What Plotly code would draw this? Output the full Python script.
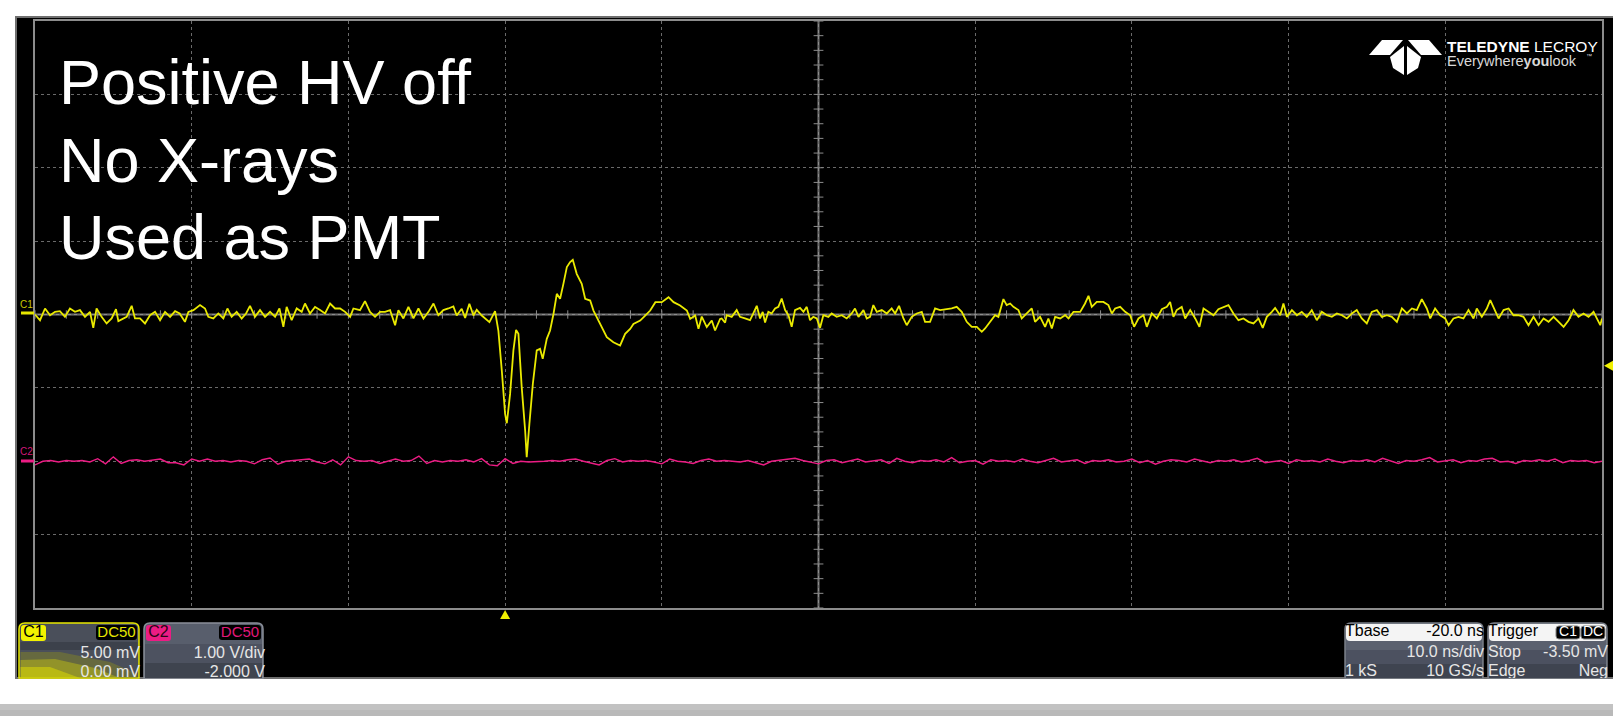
import plotly.graph_objects as go

W, H = 1613, 716

# ---------------- data ----------------
# Channel 1 samples: time (ns, trigger = 0) and voltage (mV)
C1_T = [-30.0, -29.68, -29.36, -29.04, -28.72, -28.41, -28.09, -27.77, -27.45, -27.13,
        -26.81, -26.49, -26.28, -26.07, -25.75, -25.43, -25.11, -24.83, -24.68, -24.36,
        -24.15, -23.83, -23.62, -23.30, -22.98, -22.66, -22.34, -22.02, -21.70, -21.38,
        -21.06, -20.77, -20.43, -20.21, -19.89, -19.47, -19.15, -18.94, -18.62, -18.30,
        -17.98, -17.72, -17.45, -17.13, -16.81, -16.53, -16.28, -15.96, -15.64, -15.32,
        -15.00, -14.68, -14.40, -14.15, -13.94, -13.62, -13.30, -12.98, -12.77, -12.45,
        -12.13, -11.81, -11.49, -11.17, -10.85, -10.53, -10.21, -9.89, -9.68, -9.26,
        -8.94, -8.62, -8.30, -7.98, -7.66, -7.34, -7.02, -6.81, -6.49, -6.17,
        -5.85, -5.53, -5.21, -4.89, -4.57, -4.26, -3.94, -3.62,
        -3.30, -3.09, -2.77, -2.55, -2.28, -2.02, -1.81, -1.49, -1.00, -0.64,
        -0.43, -0.21, 0.00, 0.11, 0.32, 0.53, 0.70, 0.85, 1.06, 1.28,
        1.38, 1.55, 1.77, 2.02, 2.23, 2.40, 2.66, 2.87, 3.09, 3.30,
        3.51, 3.72, 3.94, 4.15, 4.32, 4.57, 4.89, 5.11, 5.43, 5.64,
        5.85, 6.17, 6.49, 6.91, 7.34, 7.66, 7.98, 8.19, 8.62, 8.94,
        9.26, 9.59, 10.00, 10.43, 10.75, 11.17, 11.60, 11.81, 12.13, 12.34,
        12.55, 12.87, 13.19, 13.40, 13.72,
        13.82, 14.04, 14.14, 14.46, 14.78, 14.99, 15.31, 15.63, 15.84, 16.06,
        16.27, 16.44, 16.59, 16.80, 17.01, 17.23, 17.44, 17.65, 17.87, 18.08,
        18.29, 18.50, 18.82, 19.04, 19.25, 19.46, 19.67, 19.89, 20.10, 20.31,
        20.63, 20.84, 21.16, 21.48, 21.80, 22.12, 22.33, 22.55, 22.87, 23.08,
        23.29, 23.50, 23.72, 24.04, 24.36, 24.67, 24.89, 25.14, 25.42, 25.63,
        25.95, 26.27, 26.59, 26.80, 27.12, 27.44, 27.76, 28.18, 28.50, 28.82,
        29.14, 29.46, 29.78, 30.10, 30.42, 30.63, 30.95, 31.27, 31.48, 31.80,
        32.01, 32.23, 32.44, 32.76, 32.97, 33.29, 33.61, 33.82, 34.14, 34.46,
        34.67, 34.89, 35.10, 35.42, 35.74, 35.95, 36.27, 36.70, 37.01, 37.23,
        37.44, 37.76, 38.18, 38.50, 38.72, 38.93, 39.25,
        39.57, 39.89, 40.14, 40.42, 40.74, 40.95, 41.27, 41.59, 41.91, 42.23,
        42.44, 42.65, 42.86, 43.18, 43.40, 43.72, 44.04, 44.31, 44.57, 44.89,
        45.21, 45.52, 45.84, 46.16, 46.48, 46.80, 47.12, 47.44, 47.76, 48.08,
        48.35, 48.61, 48.93, 49.14, 49.46, 49.67, 49.89, 50.21, 50.53, 50.84,
        51.16, 51.48, 51.80, 52.12, 52.44, 52.76, 53.08, 53.40, 53.72, 54.04,
        54.35, 54.67, 54.99, 55.31, 55.63, 55.95, 56.27, 56.59, 56.91, 57.23,
        57.55, 57.87, 58.18, 58.50, 58.82, 59.04, 59.35, 59.67, 59.99, 60.21,
        60.52, 60.84, 61.16, 61.48, 61.80, 62.01, 62.33, 62.65, 62.87, 63.18,
        63.40, 63.72, 64.04, 64.35, 64.67, 64.99, 65.31, 65.63, 65.95, 66.27,
        66.59, 66.91, 67.23, 67.55, 67.87, 68.18, 68.50, 68.82, 69.14, 69.46,
        69.67, 69.89, 70.00]
C1_MV = [0.00, -0.39, 0.41, -0.05, 0.18, 0.23, -0.16, 0.41, 0.18, 0.30,
         -0.16, 0.18, -0.91, 0.41, -0.16, -0.61, -0.27, 0.36, -0.45, -0.27,
         -0.16, 0.59, -0.27, -0.27, -0.61, -0.05, 0.18, -0.39, 0.18, -0.16,
         0.23, 0.07, -0.50, 0.18, 0.30, 0.64, 0.41, -0.16, -0.27, 0.07,
         -0.27, 0.41, -0.16, 0.18, -0.27, 0.07, 0.59, -0.16, 0.30, -0.16,
         0.18, -0.16, 0.41, -0.84, 0.52, -0.39, 0.41, 0.18, 0.75, 0.07,
         0.52, 0.30, 0.07, 0.75, 0.41, 0.41, 0.18, -0.16, 0.41, 0.30,
         0.91, 0.18, -0.16, 0.18, 0.18, 0.30, -0.73, 0.30, -0.27, 0.52,
         -0.27, 0.41, -0.27, 0.18, 0.75, -0.05, 0.30, 0.41,
         0.55, -0.07, 0.39, -0.23, 0.73, -0.07, 0.32, -0.07, -0.52, 0.23,
         -1.09, -3.82, -6.77, -7.41, -5.41, -2.45, -1.05, -1.32, -4.95, -7.91,
         -9.73, -7.45, -4.73, -2.45, -2.34, -3.02, -1.66, -1.09, 0.05, 1.41,
         1.07, 2.09, 3.23, 3.57, 3.73, 2.77, 2.09, 1.07, 0.95, 0.27,
         -0.18, -0.75, -1.55, -1.89, -2.11, -1.32, -0.98, -0.64, -0.41, -0.07,
         0.27, 0.84, 0.84, 1.18, 0.84, 0.61, 0.27, -0.30, -0.07, -0.98,
         -0.14, -0.86, -0.41, -1.09, -0.30,
         -0.27, -0.55, -0.05, -0.16, 0.30, -0.16, -0.27, -0.39, 0.07, 0.59,
         -0.27, 0.18, -0.55, 0.18, 0.07, 0.41, 0.52, 1.09, 0.30, -0.05,
         -0.84, 0.30, 0.45, 0.18, 0.52, -0.39, -0.16, -0.27, -0.91, -0.05,
         -0.16, 0.07, -0.16, -0.05, -0.27, 0.07, 0.41, -0.16, 0.30, -0.27,
         -0.16, 0.64, 0.18, 0.30, 0.07, 0.41, 0.07, 0.59, -0.27, -0.73,
         -0.16, 0.07, 0.18, -0.50, -0.50, 0.41, 0.30, 0.36, 0.41, 0.52,
         0.18, -0.50, -0.84, -0.84, -1.18, -0.95, -0.50, -0.05, -0.16, 1.05,
         0.64, 0.75, 0.52, 0.30, -0.27, 0.07, 0.41, -0.50, -0.16, -0.84,
         -0.27, -0.95, -0.16, -0.27, -0.05, -0.27, 0.18, 0.18, 0.75, 1.27,
         0.52, 0.86, 0.86, 0.64, 0.07, 0.41, 0.52,
         0.18, -0.05, -0.84, -0.27, -0.05, -0.84, 0.07, -0.27, 0.36, 0.52,
         0.86, -0.16, 0.30, 0.52, -0.27, 0.30, -0.27, -0.84, 0.41, 0.18,
         -0.05, 0.36, 0.52, 0.64, 0.07, -0.39, -0.27, -0.50, -0.61, -0.27,
         -0.91, -0.16, 0.18, 0.45, -0.05, 0.75, -0.16, 0.30, -0.05, 0.18,
         -0.16, 0.30, -0.39, 0.18, -0.05, -0.16, 0.07, -0.05, -0.27, 0.07,
         0.30, -0.27, -0.61, 0.18, 0.30, -0.16, -0.05, -0.16, -0.50, 0.41,
         0.07, 0.41, 0.30, 1.05, 0.41, -0.27, 0.41, -0.05, -0.27, -0.73,
         -0.27, -0.16, -0.27, 0.30, -0.27, 0.41, -0.16, 0.41, 0.98, 0.18,
         -0.27, 0.30, 0.41, -0.05, -0.05, -0.16, -0.73, -0.16, -0.73, -0.27,
         -0.50, -0.16, -0.50, -0.84, -0.39, 0.30, -0.16, 0.07, -0.16, 0.18,
         -0.27, -0.73, -0.27]

# Channel 2 samples (V), one every 0.5 ns starting at -30 ns
C2_T0_NS, C2_DT_NS = -30.0, 0.5
C2_V = [-0.05, 0.00, 0.01, -0.01, 0.01, 0.00, 0.01, -0.01, 0.035, -0.035,
        0.06, -0.03, 0.01, 0.02, 0.00, 0.01, 0.03, -0.02, -0.02, -0.05,
        0.03, 0.00, 0.03, 0.00, 0.01, -0.01, 0.01, 0.00, -0.035, 0.02,
        0.045, -0.04, 0.00, 0.01, 0.02, 0.03, -0.01, -0.035, 0.02, -0.05,
        0.06, 0.01, 0.00, 0.01, -0.03, 0.00, 0.03, 0.00, 0.01, 0.07,
        -0.03, 0.01, -0.01, 0.01, 0.00, 0.02, -0.01, 0.035, -0.05, -0.06,
        0.035, -0.03, 0.00, -0.01, -0.01, 0.00, 0.01, 0.00, 0.02, 0.03,
        0.00, -0.02, -0.05, 0.01, 0.035, -0.01, 0.01, 0.00, 0.01, -0.01,
        -0.035, 0.03, 0.00, -0.01, -0.03, 0.01, 0.03, 0.00, 0.01, 0.00,
        -0.01, 0.01, -0.02, -0.05, 0.00, 0.01, 0.02, 0.04, 0.01, -0.01,
        -0.035, 0.01,
        0.02, -0.02, 0.01, 0.03, -0.01, 0.00, 0.02, -0.03, 0.04, 0.00,
        -0.02, 0.01, 0.00, 0.02, -0.01, 0.05, -0.02, 0.00, 0.01, -0.04,
        0.02, 0.00, 0.01, -0.01, 0.03, 0.00, -0.02, 0.01, 0.04, -0.01,
        0.00, 0.02, -0.03, 0.01, 0.00, 0.02, -0.01, 0.00, 0.03, -0.02,
        0.01, -0.04, 0.00, 0.02, 0.01, -0.01, 0.03, 0.00, -0.02, 0.01,
        0.00, 0.02, -0.01, 0.01, 0.04, -0.02, 0.00, 0.01, -0.03, 0.02,
        0.00, 0.01, -0.01, 0.03, 0.00, -0.02, 0.01, 0.00, 0.02, -0.01,
        0.04, 0.00, -0.03, 0.01, 0.00, 0.02, 0.05, -0.01, 0.00, 0.02,
        -0.02, 0.01, 0.00, 0.03, 0.04, -0.01, 0.00, -0.03, 0.01, 0.00,
        0.02, 0.00, 0.03, -0.02, 0.01, 0.00, 0.01, -0.02, 0.00]
C2_T = [C2_T0_NS + i * C2_DT_NS for i in range(len(C2_V))]

# scope settings
C1_MV_PER_DIV = 5.0
C2_V_PER_DIV = 1.0
C2_OFFSET_V = -2.0
T_LEFT_NS, T_RIGHT_NS = -30.0, 70.0
NS_PER_DIV = 10.0
TRIG_LEVEL_MV = -3.5

TITLE_LINES = ["Positive HV off", "No X-rays", "Used as PMT"]

FONT = "Liberation Sans, Arial, sans-serif"

# ---------------- helpers (pixel -> paper) ----------------
def fx(x):
    return x / W

def fy(y):
    return 1 - y / H

def P(x, y):
    return f"{fx(x):.5f},{fy(y):.5f}"

def poly(pts):
    return "M " + " L ".join(P(x, y) for x, y in pts) + " Z"

def top_round_rect(x0, y0, x1, y1, r):
    return (f"M {P(x0, y1)} L {P(x0, y0 + r)} Q {P(x0, y0)} {P(x0 + r, y0)} "
            f"L {P(x1 - r, y0)} Q {P(x1, y0)} {P(x1, y0 + r)} L {P(x1, y1)} Z")

def round_rect(x0, y0, x1, y1, r):
    return (f"M {P(x0 + r, y0)} L {P(x1 - r, y0)} Q {P(x1, y0)} {P(x1, y0 + r)} "
            f"L {P(x1, y1 - r)} Q {P(x1, y1)} {P(x1 - r, y1)} L {P(x0 + r, y1)} "
            f"Q {P(x0, y1)} {P(x0, y1 - r)} L {P(x0, y0 + r)} Q {P(x0, y0)} {P(x0 + r, y0)} Z")

shapes = []

def rect(x0, y0, x1, y1, fill, line=None, lw=0, layer="below", opacity=1):
    shapes.append(dict(type="rect", xref="paper", yref="paper",
                       x0=fx(x0), x1=fx(x1), y0=fy(y1), y1=fy(y0),
                       fillcolor=fill, line=dict(color=line or fill, width=lw),
                       layer=layer, opacity=opacity))

def path(p, fill, line=None, lw=0, layer="below", opacity=1):
    shapes.append(dict(type="path", xref="paper", yref="paper", path=p,
                       fillcolor=fill, line=dict(color=line or fill, width=lw),
                       layer=layer, opacity=opacity))

# ---------------- background: slide + scope screenshot ----------------
rect(0, 695, W, 699, "#e4e4e4")
rect(0, 699, W, 704, "#d2d2d2")
rect(0, 704, W, 710, "#c2c2c2")
rect(0, 710, W, H, "#b9b9b9")
rect(16, 17, W + 4, 678, "#000000", line="#6f6f6f", lw=2)

# ---------------- info boxes ----------------
# C1
path(top_round_rect(19, 623, 139, 678, 6), "#4a4f5a", line="#e8e800", lw=1.5)
rect(20.5, 642, 137.5, 650, "#3c414b")
path(poly([(20.5, 678), (20.5, 652), (60, 652), (110, 662), (137.5, 674), (137.5, 678)]), "#8a8a20", opacity=0.45)
path(poly([(20.5, 678), (20.5, 660), (55, 659), (95, 668), (120, 678)]), "#c8c810", opacity=0.45)
path(poly([(20.5, 678), (20.5, 667), (50, 667), (80, 678)]), "#e0e000", opacity=0.5)
path(round_rect(21, 625, 46, 641, 3), "#f2f200")
path(round_rect(96, 625, 137, 640, 3), "#000000")
# C2
path(top_round_rect(144, 623, 263, 678, 6), "#585e6c", line="#8a8f99", lw=1.5)
rect(145, 644, 262, 663, "#4d5260")
rect(145, 663, 262, 678, "#3f444f")
path(round_rect(146, 625, 171, 641, 3), "#ec1c84")
path(round_rect(219, 625, 261, 640, 3), "#000000")
# Tbase
path(top_round_rect(1345, 623, 1483, 678, 6), "#5a606e", line="#7a7f88", lw=1.5)
rect(1346, 650, 1482, 664, "#4c5160")
rect(1346, 664, 1482, 678, "#3f4450")
path(round_rect(1346, 624, 1482, 641, 4), "#f4f4f4")
# Trigger
path(top_round_rect(1488, 623, 1607, 678, 6), "#5a606e", line="#7a7f88", lw=1.5)
rect(1489, 650, 1606, 664, "#4c5160")
rect(1489, 664, 1606, 678, "#3f4450")
path(round_rect(1489, 624, 1606, 641, 4), "#f4f4f4")
path(round_rect(1556, 626, 1580, 639, 3), "#000000", line="#888888", lw=1)
path(round_rect(1581, 626, 1605, 639, 3), "#000000", line="#888888", lw=1)

# ---------------- markers around the grid ----------------
shapes.append(dict(type="line", xref="paper", yref="paper", x0=fx(21), x1=fx(34), y0=fy(313), y1=fy(313),
                   line=dict(color="#e6e600", width=3), layer="above"))
shapes.append(dict(type="line", xref="paper", yref="paper", x0=fx(21), x1=fx(34), y0=fy(461), y1=fy(461),
                   line=dict(color="#ec1c84", width=3), layer="above"))
# trigger time marker (bottom) and trigger level marker (right)
PX_PER_DIV_Y = (608 - 21) / 8
trig_x_px = 35 + (0 - T_LEFT_NS) / (T_RIGHT_NS - T_LEFT_NS) * (1602 - 35)
trig_y_px = 314.5 - TRIG_LEVEL_MV / C1_MV_PER_DIV * PX_PER_DIV_Y
path(poly([(trig_x_px, 610), (trig_x_px - 5, 619), (trig_x_px + 5, 619)]), "#f0f000", layer="above")
path(poly([(1604, trig_y_px), (1613, trig_y_px - 5), (1613, trig_y_px + 5)]), "#f0f000", layer="above")

# ---------------- Teledyne logo ----------------
logo = [
    [(1369, 55), (1382, 40), (1403, 40), (1390, 55)],
    [(1442, 55), (1429, 40), (1408, 40), (1421, 55)],
    [(1390, 57), (1404, 46), (1404, 75), (1393, 68)],
    [(1421, 57), (1407, 46), (1407, 75), (1418, 68)],
]
for pts in logo:
    path(poly(pts), "#ffffff", layer="above")

# ---------------- figure ----------------
fig = go.Figure()

# center cross with minor ticks
x_center = (T_LEFT_NS + T_RIGHT_NS) / 2
fig.add_shape(type="line", xref="x", yref="y", x0=T_LEFT_NS, x1=T_RIGHT_NS, y0=0, y1=0,
              line=dict(color="#8c8c8c", width=1.5), layer="below")
fig.add_shape(type="line", xref="x", yref="y", x0=x_center, x1=x_center, y0=-4, y1=4,
              line=dict(color="#8c8c8c", width=1.5), layer="below")
tick_x = [T_LEFT_NS + i * NS_PER_DIV / 5 for i in range(51)]
tick_y = [-4 + i * 0.2 for i in range(41)]
fig.add_trace(go.Scatter(x=tick_x, y=[0] * len(tick_x), mode="markers", hoverinfo="skip",
                         marker=dict(symbol="line-ns", size=6, line=dict(color="#8c8c8c", width=1))))
fig.add_trace(go.Scatter(x=[x_center] * len(tick_y), y=tick_y, mode="markers", hoverinfo="skip",
                         marker=dict(symbol="line-ew", size=7, line=dict(color="#8c8c8c", width=1))))

# waveforms (in screen divisions)
fig.add_trace(go.Scatter(x=C2_T, y=[(v + C2_OFFSET_V) / C2_V_PER_DIV for v in C2_V], mode="lines",
                         line=dict(color="#ec1c84", width=1.4), hoverinfo="skip"))
fig.add_trace(go.Scatter(x=C1_T, y=[v / C1_MV_PER_DIV for v in C1_MV], mode="lines",
                         line=dict(color="#eaea00", width=1.8), hoverinfo="skip"))

# box texts (pixel subplot so the bottom row is clipped at the screen edge)
BOX_TEXT = [
    # text, x, y, position, color, size
    ("C1", 33.5, 633, "middle center", "#000000", 16),
    ("DC50", 116.5, 633, "middle center", "#e6e600", 15),
    ("5.00 mV", 140, 654, "middle left", "#e6e6e6", 16),
    ("0.00 mV", 140, 673, "middle left", "#e6e6e6", 16),
    ("C2", 158.5, 633, "middle center", "#2a0614", 16),
    ("DC50", 240, 633, "middle center", "#e0187a", 15),
    ("1.00 V/div", 265, 654, "middle left", "#e6e6e6", 16),
    ("-2.000 V", 265, 673, "middle left", "#e6e6e6", 16),
    ("Tbase", 1345, 632, "middle right", "#000000", 16),
    ("-20.0 ns", 1484, 632, "middle left", "#000000", 16),
    ("10.0 ns/div", 1484, 653, "middle left", "#e6e6e6", 16),
    ("1 kS", 1345, 672, "middle right", "#e6e6e6", 16),
    ("10 GS/s", 1484, 672, "middle left", "#e6e6e6", 16),
    ("Trigger", 1488, 632, "middle right", "#000000", 16),
    ("C1", 1568, 632.5, "middle center", "#ffffff", 14),
    ("DC", 1593, 632.5, "middle center", "#ffffff", 14),
    ("Stop", 1488, 653, "middle right", "#e6e6e6", 16),
    ("-3.50 mV", 1608, 653, "middle left", "#e6e6e6", 16),
    ("Edge", 1488, 672, "middle right", "#e6e6e6", 16),
    ("Neg", 1608, 672, "middle left", "#e6e6e6", 16),
]
for txt, x, y, pos, col, sz in BOX_TEXT:
    fig.add_trace(go.Scatter(x=[x], y=[y], xaxis="x2", yaxis="y2", mode="text", text=[txt],
                             textposition=pos, hoverinfo="skip",
                             textfont=dict(family=FONT, size=sz, color=col)))

annotations = []
for i, line in enumerate(TITLE_LINES):
    annotations.append(dict(xref="paper", yref="paper", x=fx(57), y=fy(82 + i * 77.5),
                            xanchor="left", yanchor="middle", showarrow=False, text=line,
                            font=dict(family=FONT, size=63, color="#ffffff")))
annotations += [
    dict(xref="paper", yref="paper", x=fx(1445), y=fy(46.5), xanchor="left", yanchor="middle", showarrow=False,
         text="<b>TELEDYNE</b> LECROY",
         font=dict(family=FONT, size=15.5, color="#ffffff")),
    dict(xref="paper", yref="paper", x=fx(1445), y=fy(61.5), xanchor="left", yanchor="middle", showarrow=False,
         text="Everywhere<b>you</b>look",
         font=dict(family=FONT, size=14.5, color="#d8d8d8")),
    dict(xref="paper", yref="paper", x=fx(1584), y=fy(56), xanchor="left", yanchor="middle", showarrow=False,
         text="™", font=dict(family=FONT, size=6, color="#d8d8d8")),
    dict(xref="paper", yref="paper", x=fx(18), y=fy(304), xanchor="left", yanchor="middle", showarrow=False,
         text="C1", font=dict(family=FONT, size=10, color="#c8c800")),
    dict(xref="paper", yref="paper", x=fx(18), y=fy(452), xanchor="left", yanchor="middle", showarrow=False,
         text="C2", font=dict(family=FONT, size=10, color="#d0187a")),
]

fig.update_layout(
    width=W, height=H, autosize=False,
    margin=dict(l=0, r=0, t=0, b=0, pad=0),
    paper_bgcolor="#ffffff", plot_bgcolor="rgba(0,0,0,0)",
    showlegend=False,
    shapes=shapes + list(fig.layout.shapes),
    annotations=annotations,
    xaxis=dict(domain=[fx(35), fx(1602)], range=[T_LEFT_NS, T_RIGHT_NS], tick0=T_LEFT_NS, dtick=NS_PER_DIV,
               showgrid=True, gridcolor="#6a6a6a", griddash="dot", gridwidth=1,
               showticklabels=False, ticks="", zeroline=False,
               showline=True, linecolor="#8c8c8c", linewidth=1.5, mirror=True, fixedrange=True),
    yaxis=dict(domain=[fy(608), fy(21)], range=[-4, 4], tick0=-4, dtick=1,
               showgrid=True, gridcolor="#6a6a6a", griddash="dot", gridwidth=1,
               showticklabels=False, ticks="", zeroline=False,
               showline=True, linecolor="#8c8c8c", linewidth=1.5, mirror=True, fixedrange=True),
    xaxis2=dict(domain=[0, 1], range=[0, W], visible=False, fixedrange=True),
    yaxis2=dict(domain=[fy(678), fy(616)], range=[678, 616], visible=False, fixedrange=True),
)

fig.write_html("out.html", config={"displayModeBar": False},
               post_script="document.body.style.margin='0';document.body.style.overflow='hidden';")
